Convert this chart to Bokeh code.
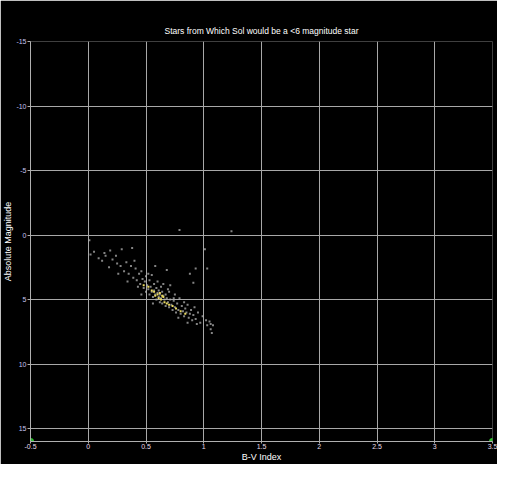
from bokeh.plotting import figure
from bokeh.models import Range1d, FixedTicker, ColumnDataSource
from bokeh.embed import file_html
from bokeh.resources import INLINE

title_text = "Stars from Which Sol would be a <6 magnitude star"
x_label = "B-V Index"
y_label = "Absolute Magnitude"

x_ticks = [-0.5, 0.0, 0.5, 1.0, 1.5, 2.0, 2.5, 3.0, 3.5]
x_tick_labels = ["-0.5", "0", "0.5", "1", "1.5", "2", "2.5", "3", "3.5"]
y_ticks = [-15, -10, -5, 0, 5, 10, 15]
y_tick_labels = ["-15", "-10", "-5", "0", "5", "10", "15"]

# faint (white/grey) stars
bv_grey = [0.01, 0.79, 1.24, 1.01, 1.03, 0.93, 0.88, 0.91,
           0.02, 0.05, 0.09, 0.12, 0.14, 0.15, 0.18, 0.19, 0.21, 0.24, 0.25, 0.28,
           0.29, 0.31, 0.33, 0.35, 0.37, 0.38, 0.39, 0.41, 0.42, 0.44, 0.45, 0.46,
           0.47, 0.48, 0.49, 0.50, 0.50, 0.51, 0.52, 0.53, 0.53, 0.54, 0.55, 0.55,
           0.56, 0.57, 0.57, 0.58, 0.58, 0.59, 0.59, 0.60, 0.60, 0.61, 0.61, 0.62,
           0.62, 0.63, 0.63, 0.64, 0.64, 0.65, 0.65, 0.66, 0.67, 0.67, 0.68, 0.68,
           0.69, 0.70, 0.70, 0.71, 0.71, 0.72, 0.73, 0.74, 0.75, 0.75, 0.76, 0.77,
           0.78, 0.79, 0.80, 0.81, 0.82, 0.83, 0.84, 0.85, 0.86, 0.87, 0.88, 0.89,
           0.90, 0.91, 0.93, 0.95, 0.97, 1.02, 1.03, 1.05, 1.06, 1.07, 1.08, 1.06,
           0.26, 0.34, 0.40, 0.43, 0.46, 0.52, 0.56, 0.69, 0.74, 0.78, 0.83, 0.86,
           0.92, 0.94, 0.99]
mag_grey = [0.4, -0.4, -0.3, 1.1, 2.6, 2.6, 3.0, 3.7,
            1.5, 1.3, 1.8, 2.0, 1.4, 1.6, 2.5, 1.2, 1.9, 1.6, 2.2, 2.4,
            1.1, 2.8, 2.1, 3.0, 2.4, 1.0, 3.3, 2.6, 3.5, 3.0, 3.8, 2.8,
            3.4, 4.1, 3.6, 3.2, 4.4, 3.9, 4.2, 3.5, 4.6, 4.0, 3.1, 4.4,
            4.8, 3.8, 4.3, 2.4, 4.6, 4.1, 5.0, 4.5, 3.6, 4.8, 4.3, 4.6,
            5.2, 4.0, 4.9, 4.4, 5.3, 4.7, 3.8, 5.0, 4.6, 5.5, 2.7, 4.9,
            5.2, 4.4, 5.6, 3.9, 5.0, 5.4, 5.8, 5.1, 4.6, 5.6, 6.0, 5.3,
            5.8, 4.9, 6.1, 5.5, 5.9, 6.3, 5.7, 6.0, 5.4, 6.4, 6.1, 5.8,
            6.6, 6.2, 6.5, 6.0, 6.8, 6.6, 7.0, 6.7, 7.3, 7.6, 7.0, 6.9,
            3.0, 3.6, 2.0, 4.0, 4.6, 3.0, 5.3, 4.2, 4.9, 6.4, 5.2, 6.8,
            5.6, 6.9, 6.3]

# brighter (yellow) stars
bv_yellow = [0.55, 0.58, 0.60, 0.61, 0.62, 0.63, 0.65, 0.66, 0.68, 0.70,
             0.73, 0.76, 0.80, 0.84, 0.48, 0.52, 0.57, 0.64]
mag_yellow = [4.3, 4.7, 4.6, 4.9, 4.5, 5.0, 4.8, 5.2, 5.3, 5.4,
              5.5, 5.7, 5.9, 6.1, 3.9, 4.0, 4.4, 4.7]

# green range markers
bv_marks = [-0.5, 3.5]
mag_marks = [16, 16]

FONT = "Liberation Sans"

p = figure(width=497, height=464, output_backend="svg", toolbar_location=None,
           x_range=Range1d(-0.5, 3.5), y_range=Range1d(16, -15),
           background_fill_color="black", border_fill_color="black",
           outline_line_color=None,
           min_border_left=0, min_border_right=5, min_border_top=41,
           min_border_bottom=0)

p.title.text = title_text
p.title.align = "center"
p.title.vertical_align = "middle"
p.title.text_color = "white"
p.title.text_font = FONT
p.title.text_font_size = "8.5px"
p.title.text_font_style = "normal"

for ax in (p.xaxis[0], p.yaxis[0]):
    ax.axis_line_color = "#b0b0b0"
    ax.major_tick_line_color = "#b0b0b0"
    ax.major_tick_out = 3
    ax.major_tick_in = 0
    ax.minor_tick_line_color = None
    ax.major_label_standoff = 1
    ax.major_label_text_font = FONT
    ax.major_label_text_font_size = "7px"
    ax.axis_label_text_font = FONT
    ax.axis_label_text_font_size = "9px"
    ax.axis_label_text_font_style = "normal"
    ax.axis_label_text_color = "white"
    ax.axis_label_standoff = 0

p.xaxis.major_tick_out = 2
p.xaxis.major_label_standoff = 0
p.xaxis.axis_label_standoff = 0
p.xaxis.axis_label = x_label
p.yaxis.axis_label = y_label
p.xaxis.ticker = FixedTicker(ticks=x_ticks)
p.yaxis.ticker = FixedTicker(ticks=y_ticks)
p.xaxis.major_label_overrides = {t: l for t, l in zip(x_ticks, x_tick_labels)}
p.yaxis.major_label_overrides = {t: l for t, l in zip(y_ticks, y_tick_labels)}
p.xaxis.major_label_text_color = "#e8dce8"
p.yaxis.major_label_text_color = "#c4c4f0"

p.xgrid.grid_line_color = "#a8a8a8"
p.ygrid.grid_line_color = "#a8a8a8"
p.xgrid.grid_line_width = 1
p.ygrid.grid_line_width = 1

src_g = ColumnDataSource(dict(x=bv_grey, y=mag_grey))
src_y = ColumnDataSource(dict(x=bv_yellow, y=mag_yellow))
src_m = ColumnDataSource(dict(x=bv_marks, y=mag_marks))

p.scatter("x", "y", source=src_g, marker="square", size=2,
          fill_color="#b0b0b0", line_color=None, fill_alpha=0.75)
p.scatter("x", "y", source=src_y, marker="square", size=2,
          fill_color="#e8d860", line_color=None)
p.scatter("x", "y", source=src_m, marker="circle", size=7,
          fill_color="#30c030", line_color=None)

open("out.html", "w").write(file_html(p, INLINE))
